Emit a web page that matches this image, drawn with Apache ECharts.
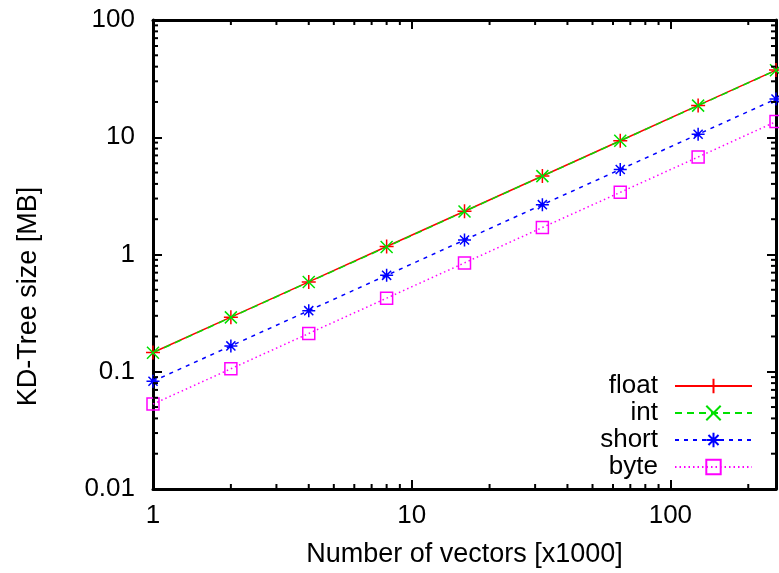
<!DOCTYPE html>
<html>
<head>
<meta charset="utf-8">
<script src="https://cdn.jsdelivr.net/npm/echarts@6/dist/echarts.min.js"></script>
<style>
  html, body { margin: 0; padding: 0; background: #fff; }
  #chart { width: 779px; height: 573px; }
</style>
</head>
<body>
<div id="chart"></div>
<script>
// x: number of vectors (thousands)
const vectors = [1, 2, 4, 8, 16, 32, 64, 128, 256];
// KD-tree size in MB
const floatSize = [0.146, 0.292, 0.584, 1.17, 2.34, 4.67, 9.34, 18.7, 37.4];
const intSize = [0.145, 0.291, 0.582, 1.16, 2.33, 4.66, 9.32, 18.6, 37.3];
const shortSize = [0.083, 0.166, 0.332, 0.664, 1.33, 2.66, 5.31, 10.6, 21.2];
const byteSize = [0.053, 0.106, 0.212, 0.424, 0.848, 1.7, 3.39, 6.78, 13.6];
const xTickLabels = [1, 10, 100];
const yTickLabels = [0.01, 0.1, 1, 10, 100];

const FONT = "Liberation Sans";
const FS = 26;
const FS_TITLE = 27;

const SYM_PLUS = "path://M0,5L10,5M5,0L5,10";
const SYM_CROSS = "path://M0,0L10,10M0,10L10,0";
const SYM_STAR = "path://M0,5L10,5M5,0L5,10M1.5,1.5L8.5,8.5M1.5,8.5L8.5,1.5";
const SYM_SQUARE = "path://M0,0L10,0L10,10L0,10Z";

function pairs(ys) {
  return vectors.map((x, i) => [x, ys[i]]);
}

function mkSeries(name, ys, color, dash, symbol, size) {
  return {
    name: name,
    type: "line",
    data: pairs(ys),
    symbol: symbol,
    symbolSize: size,
    showAllSymbol: true,
    clip: false,
    lineStyle: { color: color, width: 1.5, type: dash },
    itemStyle: { color: "rgba(0,0,0,0)", borderColor: color, borderWidth: 1.5 },
    emphasis: { disabled: true }
  };
}

const chart = echarts.init(document.getElementById("chart"));

const axisCommon = {
  type: "log",
  logBase: 10,
  axisLine: { show: true, onZero: false, lineStyle: { color: "#000", width: 3 } },
  axisTick: { show: true, inside: true, length: 9, lineStyle: { color: "#000", width: 2 } },
  splitLine: { show: false },
  minorTick: { show: false },
  minorSplitLine: { show: false }
};

function labelFmt(list) {
  return function(v) {
    for (let i = 0; i < list.length; i++) {
      if (Math.abs(v - list[i]) / list[i] < 1e-6) return String(list[i]);
    }
    return "";
  };
}

let option = {
  animation: false,
  backgroundColor: "#fff",
  textStyle: { fontFamily: FONT },
  grid: { left: 153, top: 20, width: 631, height: 469, containLabel: false },
  xAxis: [
    Object.assign({}, axisCommon, {
      min: 1,
      max: 256,
      position: "bottom",
      name: "Number of vectors [x1000]",
      nameLocation: "middle",
      nameGap: 52,
      nameTextStyle: { fontFamily: FONT, fontSize: FS_TITLE, color: "#000" },
      axisLabel: { margin: 14, fontFamily: FONT, fontSize: FS, color: "#000", formatter: labelFmt(xTickLabels) }
    }),
    Object.assign({}, axisCommon, {
      min: 1,
      max: 256,
      position: "top",
      axisLabel: { show: false }
    })
  ],
  yAxis: [
    Object.assign({}, axisCommon, {
      min: 0.01,
      max: 100,
      position: "left",
      name: "KD-Tree size [MB]",
      nameLocation: "middle",
      nameGap: 111,
      nameRotate: 90,
      nameTextStyle: { fontFamily: FONT, fontSize: FS_TITLE, color: "#000", padding: [0, 84, 0, 0] },
      axisLabel: { margin: 18, fontFamily: FONT, fontSize: FS, color: "#000", formatter: labelFmt(yTickLabels) }
    }),
    Object.assign({}, axisCommon, {
      min: 0.01,
      max: 100,
      position: "right",
      axisLabel: { show: false }
    })
  ],
  legend: {
    orient: "vertical",
    right: 21,
    top: 368,
    align: "right",
    itemWidth: 77,
    itemHeight: 18,
    itemGap: 1,
    textStyle: { fontFamily: FONT, fontSize: FS, color: "#000", padding: [0, 12, 0, 0] },
    data: ["float", "int", "short", "byte"]
  },
  series: [
    mkSeries("float", floatSize, "#ff0000", "solid", SYM_PLUS, 14),
    mkSeries("int", intSize, "#00e000", [7, 5], SYM_CROSS, 12),
    mkSeries("short", shortSize, "#0000ff", [4, 5], SYM_STAR, 13),
    mkSeries("byte", byteSize, "#ff00ff", [1.5, 3], SYM_SQUARE, 12)
  ]
};

chart.setOption(option);

// minor ticks at 2..9 of each decade, placed through the axis scales
function minorTicks() {
  const els = [];
  const grid = chart.getModel().getComponent("grid", 0).coordinateSystem.getRect();
  const xMax = 256, yMin = 0.01, yMax = 100;
  for (let d = 1; d <= 100; d *= 10) {
    for (let k = 2; k <= 9; k++) {
      const v = d * k;
      if (v > xMax) break;
      const px = chart.convertToPixel({ xAxisIndex: 0 }, v);
      els.push({ type: "line", shape: { x1: px, y1: grid.y + grid.height, x2: px, y2: grid.y + grid.height - 5 }, style: { stroke: "#000", lineWidth: 2 } });
      els.push({ type: "line", shape: { x1: px, y1: grid.y, x2: px, y2: grid.y + 5 }, style: { stroke: "#000", lineWidth: 2 } });
    }
  }
  for (let d = 0.01; d < 100; d *= 10) {
    for (let k = 2; k <= 9; k++) {
      const v = d * k;
      if (v > yMax || v < yMin) continue;
      const py = chart.convertToPixel({ yAxisIndex: 0 }, v);
      els.push({ type: "line", shape: { x1: grid.x, y1: py, x2: grid.x + 5, y2: py }, style: { stroke: "#000", lineWidth: 2 } });
      els.push({ type: "line", shape: { x1: grid.x + grid.width, y1: py, x2: grid.x + grid.width - 5, y2: py }, style: { stroke: "#000", lineWidth: 2 } });
    }
  }
  chart.setOption({ graphic: els.map(e => Object.assign(e, { silent: true, z: 10 })) });
}
minorTicks();
</script>
</body>
</html>
